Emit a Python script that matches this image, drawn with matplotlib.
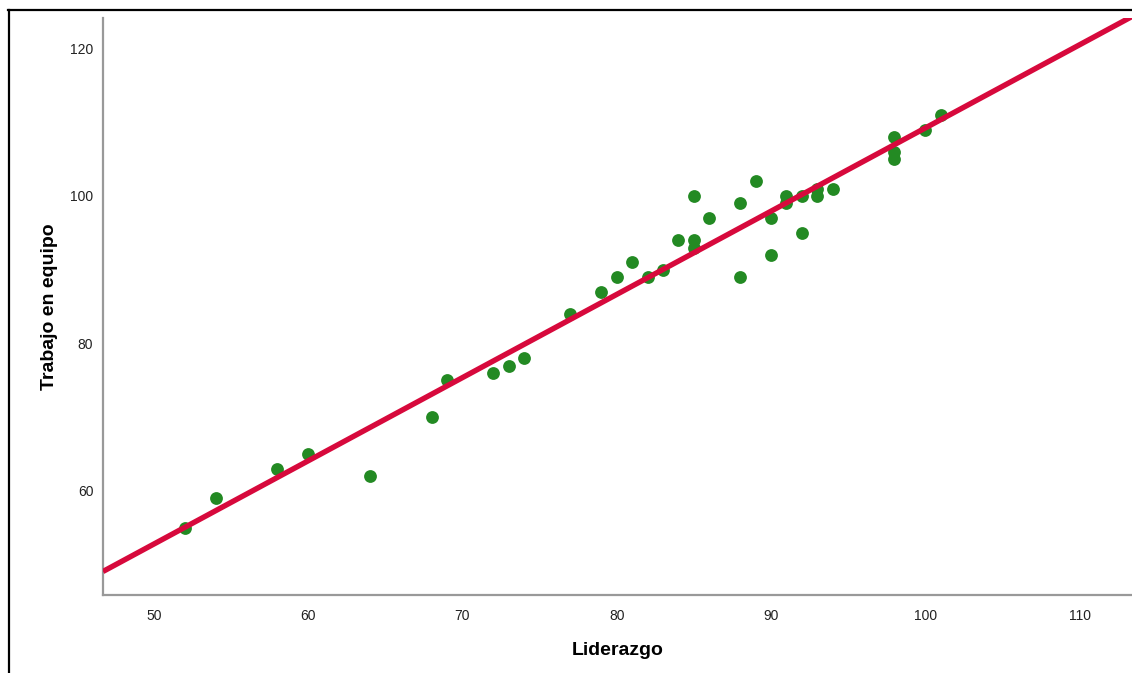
import numpy as np
import matplotlib
matplotlib.use("Agg")
import matplotlib.pyplot as plt
from matplotlib.lines import Line2D

# Liderazgo vs Trabajo en equipo
liderazgo = [52, 54, 58, 60, 64, 68, 69, 72, 73, 74,
             77, 79, 80, 81, 82, 83, 84, 85, 85, 85,
             86, 88, 88, 89, 90, 90, 91, 91, 92, 92,
             93, 93, 94, 98, 98, 98, 100, 101]
trabajo = [55, 59, 63, 65, 62, 70, 75, 76, 77, 78,
           84, 87, 89, 91, 89, 90, 94, 100, 94, 93,
           97, 99, 89, 102, 97, 92, 100, 99, 100, 95,
           101, 100, 101, 108, 106, 105, 109, 111]
x_ticks = [50, 60, 70, 80, 90, 100, 110]
y_ticks = [60, 80, 100, 120]

plt.rcParams['font.family'] = ['Liberation Sans', 'DejaVu Sans']

fig = plt.figure(figsize=(11.32, 6.73), dpi=100)
ax = fig.add_axes([0.091, 0.116, 0.909, 0.857])

ax.scatter(liderazgo, trabajo, s=85, color='#238a23', zorder=3, linewidths=0)

# linea de ajuste
b, a = np.polyfit(liderazgo, trabajo, 1)
xl = np.array([46.7, 113.4])
ax.plot(xl, a + b * xl, color='#d7093c', lw=3.9, zorder=4, solid_capstyle='butt')

ax.set_xlim(46.7, 113.4)
ax.set_ylim(45.9, 124.1)
ax.set_xticks(x_ticks)
ax.set_yticks(y_ticks)
ax.tick_params(length=0, labelsize=10, colors='#222222')
ax.tick_params(axis='x', pad=10)
ax.tick_params(axis='y', pad=7)
for s in ['top', 'right']:
    ax.spines[s].set_visible(False)
for s in ['left', 'bottom']:
    ax.spines[s].set_color('#999999')
    ax.spines[s].set_linewidth(1.6)

ax.set_xlabel('Liderazgo', fontsize=14, fontweight='bold', labelpad=14)
ax.set_ylabel('Trabajo en equipo', fontsize=14, fontweight='bold', labelpad=9)

# marco negro de la captura
fig.add_artist(Line2D([8 / 1132, 1], [1 - 10 / 673, 1 - 10 / 673], color='black', lw=1.6))
fig.add_artist(Line2D([9 / 1132, 9 / 1132], [0, 1 - 10 / 673], color='black', lw=1.6))

fig.savefig('out.png', dpi=100)
